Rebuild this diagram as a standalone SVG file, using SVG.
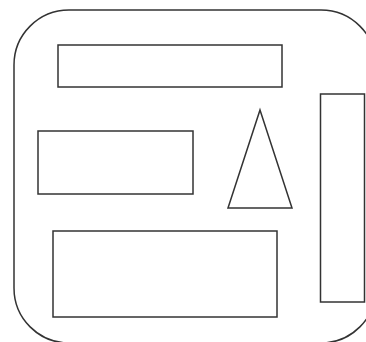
<svg xmlns="http://www.w3.org/2000/svg" width="366" height="342" viewBox="0 0 366 342">
<style>
.s{fill:#ffffff;stroke:#333333;stroke-width:1.5}
</style>
<rect x="0" y="0" width="366" height="342" fill="#ffffff"/>
<g id="frame"><rect class="s" x="14" y="10" width="362" height="333" rx="55" ry="55"/></g>
<g id="bar-top"><rect class="s" x="58" y="45" width="224" height="42"/></g>
<g id="box-left"><rect class="s" x="38" y="131" width="155" height="63"/></g>
<g id="box-bottom"><rect class="s" x="53" y="231" width="224" height="86"/></g>
<g id="bar-right"><rect class="s" x="320.5" y="94" width="44" height="208"/></g>
<g id="triangle"><polygon class="s" points="260,110 292,208 228,208"/></g>
<g id="connectors"></g>
</svg>
